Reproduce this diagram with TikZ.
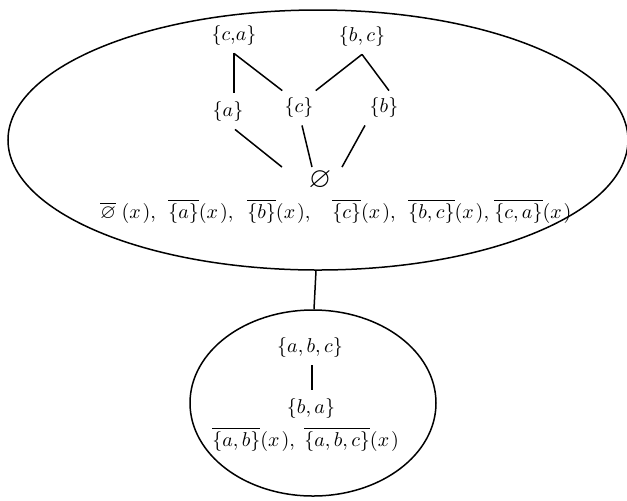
\documentclass[tikz,border=0pt]{standalone}
\usepackage{amssymb}
\usetikzlibrary{calc,shapes.geometric}
\begin{document}
\begin{tikzpicture}[x=0.5pt,y=-0.5pt,
  lbl/.style={inner sep=4pt},
  item/.style={inner sep=0pt,anchor=base west},
  edge/.style={line width=0.75pt},
  blob/.style={draw,ellipse,line width=0.75pt,inner sep=0pt}]
\useasboundingbox (0,0) rectangle (627,500);
% containers
\node[blob,minimum width=310pt,minimum height=130pt] (big) at (318,140) {};
\node[blob,minimum width=123pt,minimum height=93pt] (small) at (313,403) {};
\draw[edge] ($(big.south)+(-2,0)$) -- ($(small.north)+(1,0)$);
% upper lattice
\node[lbl] (ca) at (234,35) {$\{c{,}a\}$};
\node[lbl] (bc) at (362,36) {$\{b,c\}$};
\node[lbl] (a) at (228,111) {$\{a\}$};
\node[lbl] (c) at (299,107) {$\{c\}$};
\node[lbl] (b) at (384,107) {$\{b\}$};
\node[lbl] (empty) at (320,180) {\Large$\varnothing$};
\draw[edge] (ca.south) -- ($(a.north)+(6,0)$);
\draw[edge] (ca.south) -- ($(c.north west)+(6,2)$);
\draw[edge] (bc.south) -- ($(c.north east)+(-6,2)$);
\draw[edge] (bc.south) -- ($(b.north)+(5,2)$);
\draw[edge] ($(a.south)+(7,0)$) -- ($(empty.north)+(-38,5)$);
\draw[edge] ($(c.south)+(3,0)$) -- ($(empty.north)+(-8,5)$);
\draw[edge] ($(b.south)+(-19,0)$) -- ($(empty.north)+(22,5)$);
% upper items
\node[item] (i1) at (100,218) {$\overline{\varnothing}\;(x\kern1pt)$,};
\node[item] (i2) at (168,218) {$\overline{\{a\}}(x\kern1pt)$,};
\node[item] (i3) at (247,218) {$\overline{\{b\}}(x\kern1pt)$,};
\node[item] (i4) at (332,218) {$\overline{\{c\}}(x\kern1pt)$,};
\node[item] (i5) at (408,218) {$\overline{\{b,c\}}(x\kern1pt)$,};
\node[item] (i6) at (494,218) {$\overline{\{c,a\}}(x\kern1pt)$};
% lower lattice
\node[lbl] (abc) at (310,347) {$\{a,b,c\}$};
\node[lbl] (ba) at (311,408) {$\{b,a\}$};
\draw[edge] ($(abc.south)+(2,0)$) -- ($(ba.north)+(1,0)$);
\node[item] (j1) at (212,446) {$\overline{\{a,b\}}(x\kern1pt)$,};
\node[item] (j2) at (304,446) {$\overline{\{a,b,c\}}(x\kern1pt)$};
\end{tikzpicture}
\end{document}
